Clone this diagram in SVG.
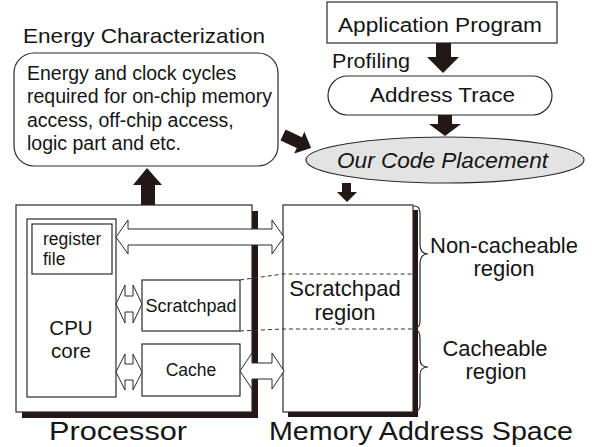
<svg xmlns="http://www.w3.org/2000/svg" width="594" height="447" viewBox="0 0 594 447">
<style>
text{font-family:"Liberation Sans",Arial,sans-serif;fill:#151515}
.box{fill:#fff;stroke:#2a2a2a;stroke-width:1.2}
.shadow{fill:#231815}
.solid{fill:#231815}
.hollow{fill:#fff;stroke:#2a2a2a;stroke-width:1}
.dash{fill:none;stroke:#333;stroke-width:1;stroke-dasharray:4 3}
.brace{fill:none;stroke:#2a2a2a;stroke-width:1.2}
</style>
<rect width="594" height="447" fill="#fff"/>

<text x="23" y="43" font-size="21" textLength="242" lengthAdjust="spacingAndGlyphs">Energy Characterization</text>

<g id="energy">
<rect class="box" x="14" y="53" width="264" height="113" rx="20"/>
<text font-size="19.5">
<tspan x="27" y="80">Energy and clock cycles</tspan>
<tspan x="27" y="103">required for on-chip memory</tspan>
<tspan x="27" y="127">access, off-chip access,</tspan>
<tspan x="27" y="150">logic part and etc.</tspan>
</text>
</g>

<g id="app">
<rect class="box" x="327" y="2" width="230" height="41"/>
<text x="338" y="32" font-size="20" textLength="204" lengthAdjust="spacingAndGlyphs">Application Program</text>
</g>

<text x="332" y="68" font-size="20" textLength="78" lengthAdjust="spacingAndGlyphs">Profiling</text>

<g id="trace">
<rect class="box" x="328" y="76" width="224" height="39" rx="19.5"/>
<text x="370" y="102" font-size="21" textLength="145" lengthAdjust="spacingAndGlyphs">Address Trace</text>
</g>

<g id="placement">
<ellipse cx="445" cy="160" rx="139" ry="23" fill="#e3e3e3" stroke="#2a2a2a" stroke-width="1.2"/>
<text x="337" y="168" font-size="22" font-style="italic" textLength="211" lengthAdjust="spacingAndGlyphs">Our Code Placement</text>
</g>

<g id="processor">
<rect class="shadow" x="22" y="211" width="236" height="207"/>
<rect class="box" x="16" y="205" width="236" height="207"/>
<text x="49" y="440" font-size="25" textLength="138" lengthAdjust="spacingAndGlyphs">Processor</text>
</g>

<g id="cpu">
<rect class="box" x="27" y="219" width="89" height="178"/>
<text x="71" y="335" font-size="20.5" text-anchor="middle">CPU</text>
<text x="71" y="358" font-size="20.5" text-anchor="middle">core</text>
</g>

<g id="regfile">
<rect class="box" x="32" y="224" width="80" height="50"/>
<text x="43" y="245" font-size="17.5">register</text>
<text x="43" y="265" font-size="17.5">file</text>
</g>

<g id="scratchpad">
<rect class="box" x="142" y="280" width="98" height="51"/>
<text x="191" y="312" font-size="18" text-anchor="middle">Scratchpad</text>
</g>

<g id="cache">
<rect class="box" x="142" y="344" width="98" height="52"/>
<text x="191" y="376" font-size="17.5" text-anchor="middle">Cache</text>
</g>

<g id="memory">
<rect class="shadow" x="288" y="210" width="130" height="207"/>
<rect class="box" x="283" y="205" width="130" height="207"/>
<text x="345" y="296" font-size="22" text-anchor="middle">Scratchpad</text>
<text x="345" y="320" font-size="22" text-anchor="middle">region</text>
<text x="421" y="440" font-size="25" text-anchor="middle" textLength="304" lengthAdjust="spacingAndGlyphs">Memory Address Space</text>
</g>

<g id="regions">
<path class="brace" d="M414,206 C419,206 420,209 420,215 L420,244 C420,250 422,254 428,254 C422,254 420,258 420,264 L420,320 C420,326 419,328 414,328"/>
<path class="brace" d="M414,330 C419,330 420,333 420,339 L420,359 C420,364 422,367 428,367 C422,367 420,370 420,375 L420,404 C420,409 419,412 414,412"/>
<text x="504" y="253" font-size="22" text-anchor="middle">Non-cacheable</text>
<text x="504" y="276" font-size="22" text-anchor="middle">region</text>
<text x="495" y="356" font-size="22" text-anchor="middle">Cacheable</text>
<text x="496" y="379" font-size="22" text-anchor="middle">region</text>
</g>

<g id="connectors">
<polygon class="solid" points="436,43 451,43 451,57 459,57 443,73 427,57 436,57"/>
<polygon class="solid" points="438,115 452,115 452,124 461,124 445,136 429,124 438,124"/>
<path class="solid" transform="translate(283,135) rotate(25)" d="M0,-6 L18,-6 L18,-12 L31,0 L18,12 L18,6 L0,6 Z"/>
<polygon class="solid" points="342,183 351,183 351,192 357,192 347,202 337,192 342,192"/>
<polygon class="solid" points="141,205 155,205 155,185 162,185 147,168 133,185 141,185"/>
<path class="hollow" d="M116,237 L128,220 L128,229 L272,229 L272,220 L284,237 L272,254 L272,245 L128,245 L128,254 Z"/>
<path class="hollow" d="M240,371 L252,353 L252,363 L272,363 L272,353 L284,371 L272,389 L272,379 L252,379 L252,389 Z"/>
<path class="hollow" d="M116,304 L125,285 L125,296 L133,296 L133,285 L142,304 L133,323 L133,312 L125,312 L125,323 Z"/>
<path class="hollow" d="M116,372 L125,354 L125,364 L133,364 L133,354 L142,372 L133,390 L133,380 L125,380 L125,390 Z"/>
<polyline class="dash" points="240,280 283,274 413,274"/>
<polyline class="dash" points="240,331 283,329 413,329"/>
</g>
</svg>
